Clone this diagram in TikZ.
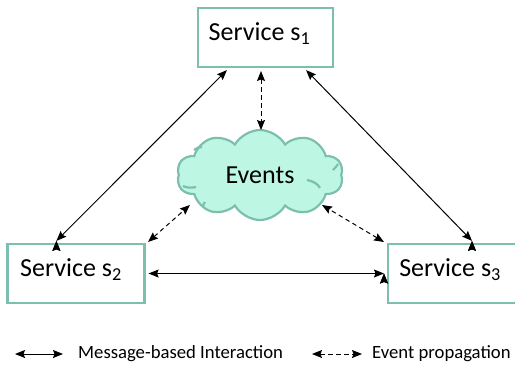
\documentclass[tikz,border=0pt]{standalone}
\usepackage{fontspec}
\setmainfont{Carlito}
\usetikzlibrary{shapes.symbols,arrows.meta}
\definecolor{boxline}{HTML}{7DBFAF}
\definecolor{cloudfill}{HTML}{BDF7E3}
\tikzset{
  service/.style={draw=boxline,line width=2.2pt,fill=white,minimum width=#1,minimum height=59pt,inner sep=0pt,
    text height=17pt,text depth=11pt,font=\fontsize{26}{28}\selectfont},
  msg/.style={{Stealth[length=10pt,width=8pt,inset=1.5pt]}-{Stealth[length=10pt,width=8pt,inset=1.5pt]},line width=1pt},
  evt/.style={msg,dash pattern=on 4.5pt off 3.5pt},
  legend/.style={font=\fontsize{18.7}{20}\selectfont,anchor=west,inner sep=0pt},
  puffline/.style={draw=boxline,line width=2.2pt}
}
\begin{document}
\begin{tikzpicture}[x=1pt,y=-1pt]
\useasboundingbox (0,0) rectangle (515,365);
\node[service=135pt] (s1) at (265.5,37.5) {Service s\textsubscript{1}\kern12pt};
\node[service=137pt] (s2) at (76,273.5) {Service s\textsubscript{2}\kern10pt};
\node[service=131pt,anchor=west] (s3) at (387,273.5) {Service s\textsubscript{3}\kern7pt};
\node[cloud,cloud puffs=10,cloud puff arc=120,aspect=1.9,draw=boxline,line width=2.2pt,fill=cloudfill,
  minimum width=166pt,minimum height=90pt,inner sep=0pt,font=\fontsize{26}{28}\selectfont] (ev) at (260,175) {Events};
% small inner creases of the cloud
\draw[puffline] (183,186) .. controls (187,188) and (192,188) .. (196,187);
\draw[puffline] (307,180) .. controls (313,181) and (318,184) .. (320,188);
\draw[puffline] (333,170) .. controls (335,168) and (337,166) .. (338,164);
\draw[puffline] (194,150) .. controls (196,148) and (199,147) .. (202,147);
\draw[puffline] (203,207) .. controls (203,205) and (204,203) .. (205,202);
% message-based interaction
\draw[msg] (s1.south west)++(30,2) coordinate (a1) (s2.north west)++(50,-2) coordinate (a2);
\draw[msg] (a1) -- (a2);
\draw[msg] (s1.south east)++(-28,2) coordinate (b1) (s3.north west)++(85,-2) coordinate (b2);
\draw[msg] (b1) -- (b2);
\draw[msg] (s2.east)++(3,0) coordinate (c1) (s3.west)++(-3,0) coordinate (c2);
\draw[msg] (c1) -- (c2);
% event propagation
\coordinate (d1) at (261,71);
\coordinate (d2) at (261,130);
\draw[evt] (d1) -- (d2);
\coordinate (e1) at (148,242);
\coordinate (e2) at (190,205);
\draw[evt] (e1) -- (e2);
\coordinate (f1) at (384,242);
\coordinate (f2) at (322,205);
\draw[evt] (f1) -- (f2);
% legend
\coordinate (l1) at (15,354); \coordinate (l2) at (63,354);
\draw[msg] (l1) -- (l2);
\node[legend] (lt1) at (78,354) {Message-based Interaction};
\coordinate (l3) at (312,354); \coordinate (l4) at (362,354);
\draw[evt] (l3) -- (l4);
\node[legend] (lt2) at (372,354) {Event propagation};
\end{tikzpicture}
\end{document}
